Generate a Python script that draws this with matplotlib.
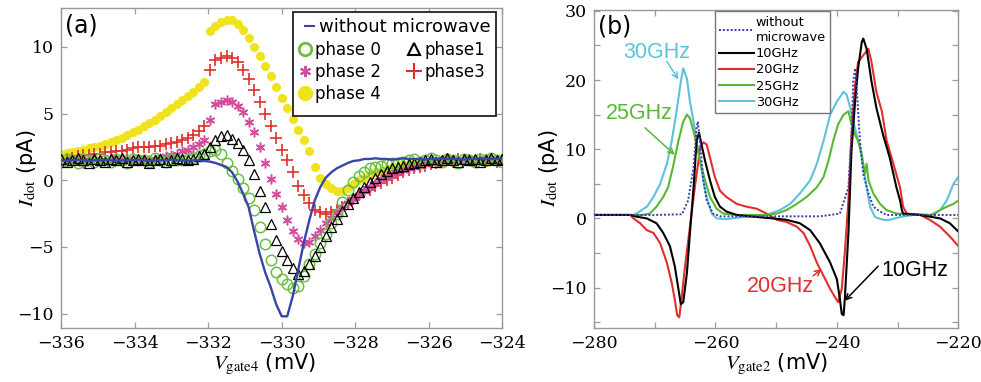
"""
dot_current_microwave.py
Two panel figure of dot current vs gate voltage:
  (a) dependence on microwave phase (gate4 sweep)
  (b) dependence on microwave frequency (gate2 sweep)
"""

import numpy as np
import matplotlib
matplotlib.use("Agg")
import matplotlib.pyplot as plt
from matplotlib.patches import Rectangle
from matplotlib.lines import Line2D
from matplotlib.ticker import MultipleLocator

plt.rcParams["mathtext.fontset"] = "stix"

SERIF = "DejaVu Serif"
SANS = "DejaVu Sans"
ARIAL = "Liberation Sans"

# ── Panel (a): Vgate4 sweep (0.15 mV step) ────────────────────────────────
VG4 = np.linspace(-336, -324, 81)

NO_MW_A = [1.5, 1.45, 1.5, 1.55, 1.5, 1.45, 1.5, 1.5, 1.55, 1.5, 1.45, 1.5, 1.5,
           1.5, 1.55, 1.5, 1.45, 1.5, 1.5, 1.5, 1.55, 1.5, 1.5, 1.45, 1.5,
           1.5, 1.45, 1.4, 1.3, 1.15, 1.0, 0.6, -0.1, -1.0, -2.0, -3.8, -5.5,
           -6.9, -8.0, -9.3, -10.2, -10.2, -8.7, -6.7, -4.7, -3.0, -1.5, -0.5,
           0.2, 0.6, 0.9, 1.1, 1.3, 1.45, 1.5, 1.6,
           1.6, 1.65, 1.6, 1.6, 1.55, 1.6, 1.65, 1.6, 1.6, 1.6, 1.55, 1.6, 1.6,
           1.65, 1.6, 1.6, 1.6, 1.55, 1.6, 1.6, 1.65, 1.6, 1.6, 1.6, 1.6]

PHASE0 = [1.4, 1.6, 1.5, 1.3, 1.6, 1.5, 1.4, 1.7, 1.5, 1.4, 1.6, 1.5, 1.3, 1.6,
          1.5, 1.5, 1.4, 1.7, 1.5, 1.4, 1.6, 1.5, 1.5, 1.6, 1.7, 1.8, 2.0,
          2.2, 2.3, 2.0, 1.3, 0.7, 0.1, -0.6, -1.3, -2.2, -3.5, -4.8, -6.0,
          -6.9, -7.4, -7.8, -8.1, -7.9, -7.2, -6.3, -5.5, -4.7, -4.0, -3.2,
          -2.5, -1.6, -0.7, -0.1, 0.3, 0.6, 0.9, 1.0, 1.1, 1.2, 1.3, 1.3, 1.4,
          1.5, 1.6, 1.4, 1.5, 1.7, 1.5, 1.4, 1.6, 1.5, 1.3, 1.6, 1.5, 1.4, 1.6,
          1.5, 1.7, 1.5, 1.4]

PHASE1 = [1.6, 1.4, 1.5, 1.7, 1.5, 1.3, 1.6, 1.5, 1.4, 1.6, 1.5, 1.7, 1.4, 1.5,
          1.6, 1.5, 1.3, 1.5, 1.6, 1.4, 1.5, 1.7, 1.6, 1.5, 1.6, 1.8,
          2.0, 2.5, 3.0, 3.3, 3.4, 3.1, 2.8, 2.3, 1.5, 0.5, -0.8, -2.0, -3.3,
          -4.5, -5.3, -6.0, -6.6, -7.0, -6.8, -6.3, -5.7, -5.0, -4.2, -3.5,
          -2.9, -2.3, -1.8, -1.3, -0.9, -0.5, -0.1, 0.2, 0.5, 0.7, 0.9, 1.0,
          1.1, 1.2, 1.3, 1.4,
          1.5, 1.6, 1.4, 1.5, 1.7, 1.5, 1.4, 1.6, 1.5, 1.6, 1.4, 1.5, 1.7, 1.5,
          1.6]

PHASE2 = [1.5, 1.4, 1.6, 1.5, 1.3, 1.5, 1.6, 1.4, 1.5, 1.7, 1.5, 1.4, 1.6, 1.5,
          1.5, 1.6, 1.5, 1.6,
          1.7, 1.8, 1.9, 2.0, 2.2, 2.3, 2.5, 2.7, 3.0, 4.5, 5.7, 5.9, 6.0, 5.9,
          5.6, 5.1, 4.4, 3.6, 2.5, 1.3, 0.1, -1.0, -2.0, -3.0, -3.8, -4.4,
          -4.7, -4.6, -4.2, -3.7, -3.2, -2.8, -2.4, -2.0, -1.7, -1.4, -1.1,
          -0.8, -0.5, -0.2, 0.1, 0.3, 0.5, 0.7, 0.8, 0.9, 1.0, 1.1, 1.2, 1.3,
          1.4,
          1.5, 1.6, 1.4, 1.5, 1.5, 1.6, 1.4, 1.5, 1.6, 1.5, 1.4, 1.5]

PHASE3 = [1.5, 1.6, 1.7, 1.8, 1.9, 1.9, 2.0, 2.0, 2.1, 2.1, 2.2, 2.2, 2.3, 2.4,
          2.5, 2.5, 2.5, 2.6, 2.6, 2.7, 2.8, 2.9, 3.0, 3.2, 3.4, 3.7, 4.1,
          8.3, 9.0, 9.2, 9.3, 9.2, 8.9, 8.3, 7.6, 6.8, 5.9, 5.0, 4.1, 3.2, 2.3,
          1.5, 0.6, -0.4, -1.1, -1.7, -2.2, -2.4, -2.5, -2.4, -2.2, -2.0, -1.7,
          -1.4, -1.1, -0.9, -0.7, -0.4, -0.2, 0.0, 0.2, 0.4, 0.6, 0.8, 0.9,
          1.0, 1.1, 1.2, 1.3, 1.4,
          1.5, 1.4, 1.6, 1.5, 1.5, 1.4, 1.6, 1.5, 1.5, 1.4, 1.5]

PHASE4 = [2.0, 2.05, 2.1, 2.2, 2.3, 2.4, 2.5, 2.6, 2.75, 2.9, 3.05, 3.2, 3.4,
          3.6, 3.8, 4.05, 4.3, 4.55, 4.8, 5.1, 5.4, 5.7, 6.0, 6.3, 6.6, 7.0,
          7.4,
          11.2, 11.6, 11.9, 12.0, 12.0, 11.7, 11.3, 10.7, 10.0, 9.3, 8.6, 7.8,
          7.0, 6.2, 5.4, 4.6, 3.8, 3.0, 2.2, 1.0, 0.2, -0.3, -0.6, -0.8, -0.8,
          -0.6, -0.3, 0.0, 0.2, 0.4, 0.6, 0.7, 0.85, 1.0, 1.1, 1.2, 1.25, 1.3,
          1.4, 1.4, 1.5, 1.4, 1.5, 1.5, 1.4, 1.5, 1.5, 1.6, 1.5, 1.5, 1.4, 1.5,
          1.5, 1.5]

# ── Panel (b): Vgate2 sweep, one trace per frequency ────────────────────────
NO_MW_B_X = [-280, -270, -265.5, -264.5, -263.6, -263.1, -262.9, -262.55, -262.0,
             -261.45, -260.4, -259.2, -250, -242.8, -239.5, -238.1, -237.6,
             -237.3, -237.0, -236.75, -236.2, -235.65, -234.8, -234.0, -232.9,
             -231.8, -220]
NO_MW_B_Y = [0.5, 0.5, 0.6, 2.6, 7.4, 13.1, 14.0, 11.2, 5.5, 2.6, 0.7, 0.3, 0.3,
             0.3, 0.7, 4.5, 12.0, 19.8, 21.7, 19.0, 11.2, 6.4, 3.6, 1.7, 1.0,
             0.5, 0.5]

F10_X = [-280, -274, -273, -271.3, -269.7, -268.6, -267.5, -266.7, -266.1,
         -265.7, -265.3, -264.7, -264.2, -263.6, -263.1, -262.7, -262.3, -261.7,
         -260.9, -260.1, -259.25, -258.2, -256.5, -253.8, -250.5, -248.3,
         -246.1, -244.4, -242.8, -241.1, -240.0, -239.5, -239.2, -238.9,
         -238.7, -238.1, -237.6, -237.0, -236.5, -235.9, -235.65, -235.1,
         -234.3, -233.5, -232.4, -231.3, -230.2, -229.6, -229.3, -229.1,
         -226.3, -223.0, -221.4, -220]
F10_Y = [0.5, 0.5, 0.25, 0.0, -0.7, -2.1, -4.0, -6.9, -10.2, -12.4, -12.1, -7.9,
         -2.1, 4.5, 11.2, 12.4, 10.7, 8.3, 5.5, 3.1, 1.7, 1.0, 0.5, 0.25, 0.0,
         -0.2, -0.7, -1.7, -3.6, -6.4, -8.8, -11.7, -13.8, -14.0, -11.7, -2.1,
         9.8, 16.9, 21.7, 25.5, 26.0, 24.5, 19.8, 16.0, 12.1, 8.8, 4.5, 2.6,
         1.2, 0.7, 0.5, 0.0, -0.7, -1.9]

F20_X = [-280, -274, -273.5, -272.4, -271.3, -270.2, -269.1, -268.0, -267.2,
         -266.7, -266.3, -265.95, -265.6, -265.0, -264.2, -263.4, -262.8,
         -262.55, -262.0, -261.45, -260.9, -260.1, -259.25, -258.2, -256.5,
         -254.9, -253.2, -251.6, -249.9, -248.3, -246.6, -245.5, -244.4,
         -243.3, -242.2, -241.1, -240.3, -239.8, -239.2, -238.7, -238.1,
         -237.6, -237.0, -236.5, -235.65, -234.8, -234.3, -233.5, -232.6,
         -231.8, -230.7, -229.6, -229.1, -228.5, -226.3, -224.7, -223.0,
         -221.4, -220]
F20_Y = [0.5, 0.5, 0.0, -0.7, -1.7, -2.1, -3.6, -6.4, -9.3, -11.7, -14.0, -14.3,
         -11.7, -6.9, -1.2, 4.5, 8.3, 10.2, 11.0, 10.7, 8.8, 6.0, 4.0, 3.1, 2.1,
         1.7, 1.4, 0.7, -0.2, -0.5, -1.2, -2.1, -4.0, -6.4, -8.3, -10.2, -11.4,
         -12.1, -10.2, -5.0, 2.6, 12.1, 19.3, 22.6, 23.6, 24.5, 22.6, 18.3,
         15.5, 11.2, 7.9, 4.5, 1.7, 0.7, 0.5, -0.2, -1.2, -2.6, -4.0]

F25_X = [-280, -272, -270.8, -269.7, -268.6, -267.8, -267.0, -266.1, -265.3,
         -264.7, -264.2, -263.6, -263.1, -262.55, -261.7, -260.9, -259.8,
         -258.7, -256.5, -252.0, -249.9, -248.3, -246.6, -245.0, -243.3,
         -242.2, -241.4, -240.6, -239.8, -238.9, -238.1, -237.6, -237.0,
         -236.5, -235.9, -235.4, -235.1, -234.8, -234.0, -232.9, -231.8,
         -230.2, -224.5, -223.0, -221.9, -220.8, -220]
F25_Y = [0.5, 0.5, 0.7, 1.7, 3.1, 4.5, 7.4, 11.2, 14.0, 15.0, 14.5, 12.6, 10.7,
         8.3, 5.5, 3.1, 1.4, 0.7, 0.5, 0.5, 0.7, 1.2, 2.1, 3.1, 4.5, 6.0, 8.3,
         11.2, 13.6, 15.0, 15.5, 13.6, 12.1, 11.2, 9.3, 6.4, 7.9, 5.5, 3.6,
         2.1, 1.2, 0.7, 0.5, 1.2, 1.7, 2.1, 2.6]

F30_X = [-280, -273.5, -273.0, -271.3, -270.2, -269.1, -268.0, -267.2, -266.4,
         -265.7, -265.3, -264.7, -264.2, -263.6, -263.1, -262.55, -262.0,
         -261.45, -260.6, -259.8, -258.2, -256.0, -253.8, -251.6, -249.4,
         -247.7, -246.1, -244.4, -243.3, -242.2, -241.1, -240.0, -238.9,
         -238.4, -237.8, -237.3, -236.75, -236.2, -235.65, -235.1, -234.55,
         -233.7, -232.4, -231.3, -229.6, -227.4, -224.1, -223.0, -221.9,
         -220.8, -220]
F30_Y = [0.5, 0.5, 0.7, 1.7, 3.1, 5.0, 7.9, 11.2, 15.5, 19.8, 21.7, 20.2, 16.9,
         14.0, 11.2, 8.3, 5.5, 3.1, 0.7, 0.0, -0.1, 0.15, 0.3, 0.5, 1.2, 2.1,
         3.6, 5.5, 7.9, 11.2, 15.0, 16.9, 18.3, 17.9, 16.0, 14.0, 12.1, 10.2,
         7.4, 4.5, 1.7, 0.2, -0.2, -0.2, 0.2, 0.5, 0.5, 1.2, 2.6, 5.0, 6.0]

BLUE = "#3645a8"
GREEN = "#6cbf45"
MAGENTA = "#d24d9e"
RED = "#e0302c"
YELLOW = "#f0e21c"
CYAN = "#5cc3dc"
SPINE = "#9a9a9a"


def style_axes(ax):
    for sp in ax.spines.values():
        sp.set_color(SPINE)
        sp.set_linewidth(1.0)
    ax.tick_params(which="both", direction="in", top=True, right=True,
                   length=4.5, width=0.9, color=SPINE, labelsize=12.5, pad=5)
    for lab in ax.get_xticklabels() + ax.get_yticklabels():
        lab.set_fontfamily(SERIF)


def draw_panel_a(ax):
    ax.plot(VG4, PHASE4, ls="none", marker="o", ms=6.5, mfc=YELLOW, mec="none",
            zorder=2)
    ax.plot(VG4, PHASE3, ls="none", marker="+", ms=8, mew=1.2, color=RED,
            zorder=3)
    ax.plot(VG4, PHASE2, ls="none", marker=(6, 2, 0), ms=7, mew=1.1,
            color=MAGENTA, zorder=3)
    ax.plot(VG4, PHASE0, ls="none", marker="o", ms=7.5, mfc="none", mec=GREEN,
            mew=1.1, zorder=4)
    ax.plot(VG4, PHASE1, ls="none", marker="^", ms=7.5, mfc="none", mec="black",
            mew=0.9, zorder=4)
    ax.plot(VG4, NO_MW_A, color=BLUE, lw=1.7, zorder=6)

    ax.set_xlim(-336, -324)
    ax.set_ylim(-11.1, 12.9)
    ax.xaxis.set_major_locator(MultipleLocator(2))
    ax.yaxis.set_major_locator(MultipleLocator(5))
    style_axes(ax)

    ax.set_xlabel(r"$V_{\mathrm{gate4}}$ (mV)", fontsize=15, family=SANS)
    ax.set_ylabel(r"$I_{\mathrm{dot}}$ (pA)", fontsize=15, family=SANS)
    ax.xaxis.set_label_coords(0.46, -0.075)
    ax.yaxis.set_label_coords(-0.05, 0.5)
    ax.text(0.01, 0.985, "(a)", transform=ax.transAxes, fontsize=17,
            family=SANS, va="top", ha="left")

    # legend: framed box holding two borderless legends
    ax.add_patch(Rectangle((0.526, 0.6625), 0.46, 0.325, transform=ax.transAxes,
                           facecolor="white", edgecolor="#222222", lw=1.3,
                           zorder=7))
    h_mw = [Line2D([], [], color=BLUE, lw=1.5)]
    leg1 = ax.legend(h_mw, ["without microwave"], loc="upper left",
                     bbox_to_anchor=(0.553, 0.97), frameon=False,
                     borderpad=0, borderaxespad=0, handlelength=0.5,
                     handletextpad=0.25, prop={"family": SANS, "size": 13})
    leg1.set_zorder(8)
    ax.add_artist(leg1)
    handles = [
        Line2D([], [], ls="none", marker="o", ms=9, mfc="none", mec=GREEN, mew=2),
        Line2D([], [], ls="none", marker=(6, 2, 0), ms=8, mew=1.5, color=MAGENTA),
        Line2D([], [], ls="none", marker="o", ms=11, mfc=YELLOW, mec="none"),
        Line2D([], [], ls="none", marker="^", ms=9, mfc="none", mec="black", mew=1.5),
        Line2D([], [], ls="none", marker="+", ms=11, mew=1.5, color=RED),
    ]
    labels = ["phase 0", "phase 2", "phase 4", "phase1", "phase3"]
    leg2 = ax.legend(handles, labels, ncol=2, loc="upper left",
                     bbox_to_anchor=(0.537, 0.897), frameon=False,
                     borderpad=0, borderaxespad=0, handlelength=0.8,
                     handletextpad=0.2, columnspacing=1.6, labelspacing=0.22,
                     prop={"family": SANS, "size": 12})
    leg2.set_zorder(8)


def draw_panel_b(ax):
    ax.plot(NO_MW_B_X, NO_MW_B_Y, color="#3a3aa8", lw=1.4, ls=(0, (1, 1)),
            label="without\nmicrowave", zorder=5)
    ax.plot(F10_X, F10_Y, color="black", lw=1.5, label="10GHz", zorder=4)
    ax.plot(F20_X, F20_Y, color=RED, lw=1.5, label="20GHz", zorder=3)
    ax.plot(F25_X, F25_Y, color="#58b834", lw=1.5, label="25GHz", zorder=3)
    ax.plot(F30_X, F30_Y, color=CYAN, lw=1.5, label="30GHz", zorder=2)

    ax.set_xlim(-280, -220)
    ax.set_ylim(-15.8, 30.2)
    ax.xaxis.set_major_locator(MultipleLocator(20))
    ax.xaxis.set_minor_locator(MultipleLocator(10))
    ax.yaxis.set_major_locator(MultipleLocator(10))
    ax.yaxis.set_minor_locator(MultipleLocator(5))
    style_axes(ax)

    ax.set_xlabel(r"$V_{\mathrm{gate2}}$ (mV)", fontsize=15, family=SANS)
    ax.set_ylabel(r"$I_{\mathrm{dot}}$ (pA)", fontsize=15, family=SANS)
    ax.xaxis.set_label_coords(0.5, -0.075)
    ax.yaxis.set_label_coords(-0.09, 0.5)
    ax.text(0.01, 0.985, "(b)", transform=ax.transAxes, fontsize=17,
            family=SANS, va="top", ha="left")

    leg = ax.legend(loc="upper left", bbox_to_anchor=(0.332, 0.994),
                    borderaxespad=0, fancybox=False, edgecolor="#777777",
                    framealpha=1, handlelength=2.7, handletextpad=0.1,
                    labelspacing=0.25, borderpad=0.35,
                    prop={"family": SANS, "size": 9.3})
    leg.get_frame().set_linewidth(1.0)

    notes = [
        ("30GHz", CYAN, (-269.6, 24.0), (-268.0, 22.7), (-266.1, 20.1)),
        ("25GHz", "#58b834", (-272.6, 15.1), (-271.6, 13.1), (-266.7, 9.2)),
        ("20GHz", RED, (-249.3, -9.8), (-243.9, -8.3), (-242.5, -7.3)),
        ("10GHz", "black", (-227.1, -7.6), (-233.2, -6.9), (-238.7, -11.9)),
    ]
    for txt, col, pos, tail, tip in notes:
        ax.text(pos[0], pos[1], txt, color=col, fontsize=15.5, family=ARIAL,
                ha="center", va="center", zorder=6)
        ax.annotate("", xy=tip, xytext=tail,
                    arrowprops=dict(arrowstyle="->", color=col, lw=1.1,
                                    shrinkA=0, shrinkB=0))


if __name__ == "__main__":
    fig = plt.figure(figsize=(9.81, 3.82), dpi=100)
    ax_a = fig.add_axes([0.0622, 0.1406, 0.4499, 0.8377])
    ax_b = fig.add_axes([0.6055, 0.1421, 0.3714, 0.833])
    draw_panel_a(ax_a)
    draw_panel_b(ax_b)
    fig.savefig("out.png", dpi=100)
    plt.close(fig)
